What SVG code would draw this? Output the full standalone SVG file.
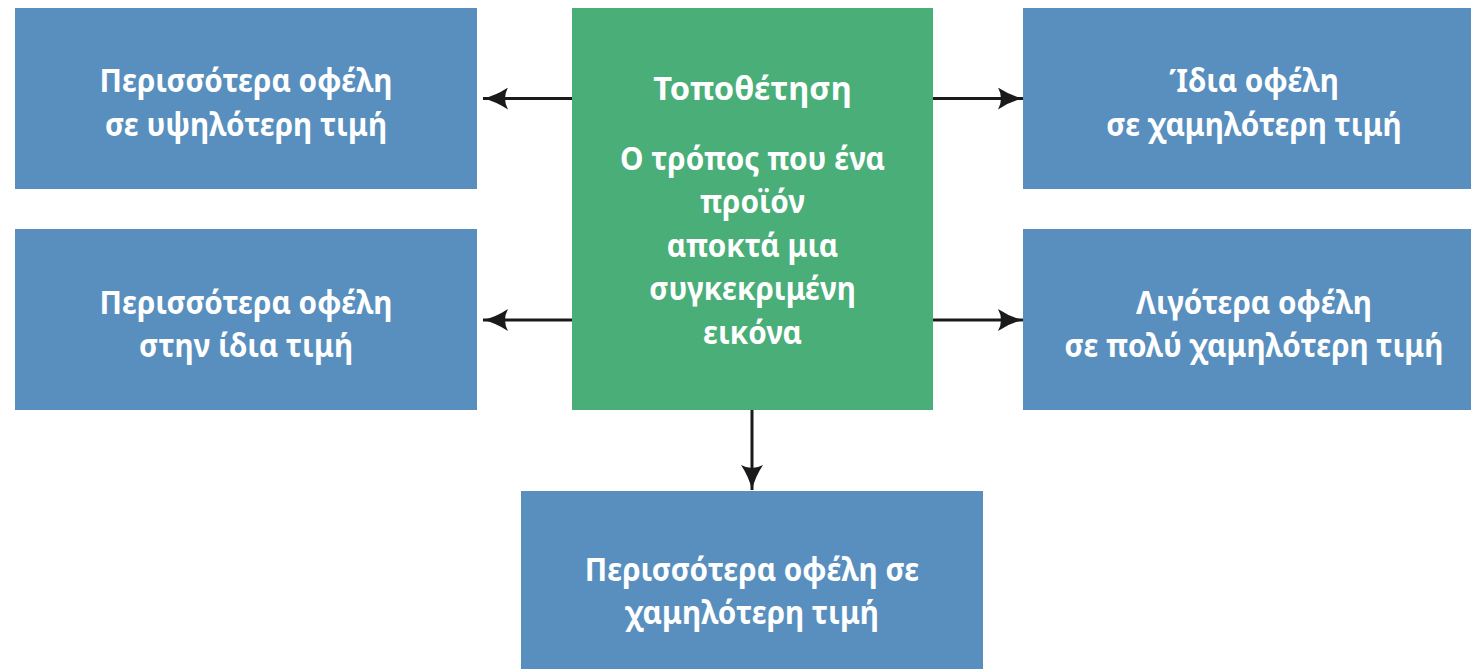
<svg xmlns="http://www.w3.org/2000/svg" width="1471" height="669" viewBox="0 0 1471 669">
<style>
.blue{fill:#588fbe}
.green{fill:#49ae78}
.t{font-family:"Noto Sans","Open Sans","Liberation Sans",sans-serif;font-weight:bold;font-size:33px;fill:#ffffff;text-anchor:middle}
.c{stroke:#1a1a1a;stroke-width:3;fill:none}
</style>
<defs>
<marker id="ah" viewBox="0 0 25 22" refX="25" refY="11" markerWidth="25" markerHeight="22" markerUnits="userSpaceOnUse" orient="auto">
<path d="M0,0 Q12,8 25,11 Q12,14 0,22 Q6,11 0,0 Z" fill="#1a1a1a"/>
</marker>
</defs>
<rect width="1471" height="669" fill="#ffffff"/>
<g id="connectors">
<line class="c" x1="572" y1="98.5" x2="483" y2="98.5" marker-end="url(#ah)"/>
<line class="c" x1="572" y1="320" x2="483" y2="320" marker-end="url(#ah)"/>
<line class="c" x1="933" y1="98.5" x2="1023" y2="98.5" marker-end="url(#ah)"/>
<line class="c" x1="933" y1="320" x2="1023" y2="320" marker-end="url(#ah)"/>
<line class="c" x1="752" y1="410" x2="752" y2="490" marker-end="url(#ah)"/>
</g>
<g id="center">
<rect class="green" x="572" y="8" width="361" height="402"/>
<g transform="matrix(0.9 0 0 1 75.25 0)">
<text class="t" x="752.5" y="100" transform="matrix(1.1 0 0 1 -75.25 0)">Τοποθέτηση</text>
<text class="t" x="752.5" y="170">Ο τρόπος που ένα</text>
<text class="t" x="752.5" y="213">προϊόν</text>
<text class="t" x="752.5" y="257">αποκτά μια</text>
<text class="t" x="752.5" y="300">συγκεκριμένη</text>
<text class="t" x="752.5" y="344">εικόνα</text>
</g>
</g>
<g id="top-left">
<rect class="blue" x="15" y="8" width="462" height="181"/>
<g transform="matrix(0.9 0 0 1 24.6 0)">
<text class="t" x="246" y="92">Περισσότερα οφέλη</text>
<text class="t" x="246" y="136">σε υψηλότερη τιμή</text>
</g>
</g>
<g id="bottom-left">
<rect class="blue" x="15" y="229" width="462" height="181"/>
<g transform="matrix(0.9 0 0 1 24.6 0)">
<text class="t" x="246" y="314">Περισσότερα οφέλη</text>
<text class="t" x="246" y="357">στην ίδια τιμή</text>
</g>
</g>
<g id="top-right">
<rect class="blue" x="1023" y="8" width="460" height="181"/>
<g transform="matrix(0.9 0 0 1 125.4 0)">
<text class="t" x="1254" y="92">Ίδια οφέλη</text>
<text class="t" x="1254" y="136">σε χαμηλότερη τιμή</text>
</g>
</g>
<g id="bottom-right">
<rect class="blue" x="1023" y="229" width="460" height="181"/>
<g transform="matrix(0.9 0 0 1 125.4 0)">
<text class="t" x="1254" y="314">Λιγότερα οφέλη</text>
<text class="t" x="1254" y="357">σε πολύ χαμηλότερη τιμή</text>
</g>
</g>
<g id="bottom">
<rect class="blue" x="521" y="491" width="462" height="190"/>
<g transform="matrix(0.9 0 0 1 75.2 0)">
<text class="t" x="752" y="581">Περισσότερα οφέλη σε</text>
<text class="t" x="752" y="624">χαμηλότερη τιμή</text>
</g>
</g>
</svg>
